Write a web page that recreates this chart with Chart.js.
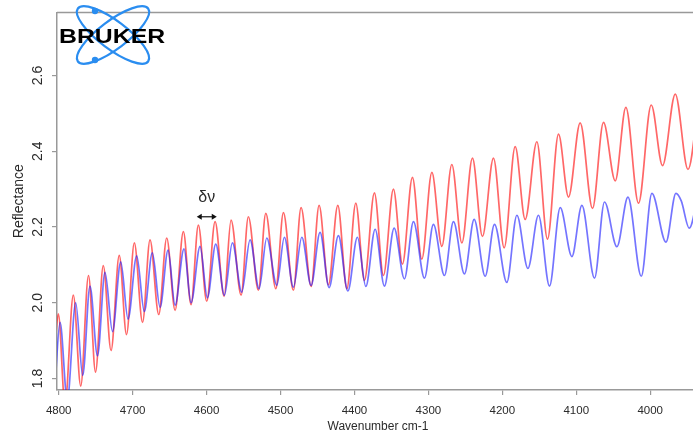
<!DOCTYPE html>
<html>
<head>
<meta charset="utf-8">
<script src="https://cdn.jsdelivr.net/npm/chart.js@4.4.1/dist/chart.umd.min.js"></script>
<style>
  html, body { margin: 0; padding: 0; background: #fff; overflow: hidden; }
  #wrap { width: 702px; height: 437px; }
</style>
</head>
<body>
<div id="wrap"><canvas id="c" width="702" height="437"></canvas></div>
<script>
// ---- data ----
const xTicks = [4800, 4700, 4600, 4500, 4400, 4300, 4200, 4100, 4000];
const yTicks = [1.8, 2.0, 2.2, 2.4, 2.6];
const xTitle = 'Wavenumber cm-1';
const yTitle = 'Reflectance';
const annotText = 'δν';

// red spectrum: wavenumber (cm-1) of successive peaks / troughs and reflectance
const redWn = [4805, 4800.5, 4791.5, 4780.2, 4770.2, 4759.7, 4750.2, 4739.7, 4729.2, 4718.1,
  4708.3, 4697.7, 4686.6, 4676.5, 4664.7, 4653.9, 4642.6, 4631.4, 4621.0, 4611.1,
  4599.8, 4588.5, 4576.3, 4566.9, 4553.3, 4543.5, 4529.9, 4519.9, 4506.4, 4496.1,
  4482.6, 4472.2, 4458.6, 4447.8, 4435.2, 4422.5, 4410.3, 4398.2, 4386.5, 4373.0,
  4360.8, 4347.3, 4335.1, 4321.6, 4308.9, 4295.3, 4281.8, 4268.3, 4254.7, 4240.4,
  4226.9, 4212.0, 4197.5, 4182.6, 4169.1, 4153.3, 4138.9, 4124.0, 4110.5, 4094.7,
  4078.0, 4063.2, 4047.3, 4032.9, 4015.8, 3998.6, 3983.3, 3966.1, 3948.9, 3933];
const redVal = [1.886, 1.971, 1.731, 2.020, 1.780, 2.072, 1.817, 2.098, 1.874, 2.125,
  1.916, 2.158, 1.948, 2.166, 1.969, 2.171, 1.980, 2.188, 1.995, 2.205,
  2.004, 2.214, 2.017, 2.218, 2.020, 2.227, 2.033, 2.236, 2.037, 2.238,
  2.033, 2.251, 2.043, 2.257, 2.047, 2.257, 2.037, 2.263, 2.059, 2.290,
  2.072, 2.300, 2.102, 2.331, 2.115, 2.344, 2.149, 2.365, 2.158, 2.382,
  2.175, 2.382, 2.145, 2.412, 2.220, 2.425, 2.168, 2.445, 2.279, 2.475,
  2.249, 2.476, 2.322, 2.516, 2.263, 2.522, 2.362, 2.551, 2.352, 2.560];

// blue spectrum
const blueWn = [4805, 4798.2, 4788.4, 4777.0, 4767.5, 4757.7, 4747.5, 4737.4, 4727.2, 4716.1,
  4706.2, 4694.5, 4684.2, 4673.4, 4662.9, 4652.1, 4642.6, 4630.5, 4621.0, 4608.8,
  4598.9, 4587.6, 4575.9, 4565.1, 4552.4, 4541.2, 4529.0, 4518.6, 4505.0, 4494.8,
  4482.6, 4471.2, 4458.6, 4446.5, 4434.3, 4421.7, 4408.9, 4396.0, 4384.6, 4372.0,
  4359.5, 4346.3, 4332.4, 4320.2, 4305.3, 4293.2, 4278.3, 4266.1, 4251.2, 4238.1,
  4223.2, 4210.6, 4193.9, 4180.3, 4165.4, 4151.1, 4136.2, 4121.7, 4105.9, 4092.4,
  4075.3, 4061.8, 4045.0, 4030.1, 4012.1, 3997.7, 3978.7, 3965.2, 3958.0, 3947.2, 3933];
const blueVal = [1.783, 1.948, 1.744, 2.000, 1.808, 2.044, 1.860, 2.080, 1.924, 2.108,
  1.957, 2.124, 1.977, 2.132, 1.988, 2.139, 1.994, 2.142, 2.000, 2.149,
  2.013, 2.155, 2.020, 2.158, 2.028, 2.166, 2.037, 2.171, 2.046, 2.173,
  2.041, 2.173, 2.046, 2.186, 2.040, 2.177, 2.031, 2.173, 2.043, 2.194,
  2.044, 2.197, 2.063, 2.214, 2.065, 2.207, 2.072, 2.214, 2.076, 2.220,
  2.070, 2.207, 2.054, 2.231, 2.091, 2.231, 2.044, 2.251, 2.122, 2.257,
  2.065, 2.266, 2.148, 2.279, 2.070, 2.289, 2.160, 2.289, 2.269, 2.197, 2.310];

// annotation "δν" (data coordinates)
const annotArrowFrom = 4613.3, annotArrowTo = 4586.2, annotArrowY = 2.227;
const annotTextX = 4599.8, annotTextY = 2.277;

// ---- styling ----
const FONT = "'Liberation Sans', Arial, Helvetica, sans-serif";
const AXIS = '#999999';
const TXT = '#2a2a2a';

const toPts = (xs, ys) => xs.map((x, i) => ({ x: x, y: ys[i] }));

const decor = {
  id: 'decor',
  afterDraw(chart) {
    const ctx = chart.ctx, a = chart.chartArea;
    const sx = chart.scales.x, sy = chart.scales.y;
    ctx.save();
    // top frame line
    ctx.strokeStyle = AXIS; ctx.lineWidth = 1.5;
    ctx.beginPath(); ctx.moveTo(a.left, a.top); ctx.lineTo(a.right + 5, a.top); ctx.stroke();

    // annotation arrow + label
    const x1 = sx.getPixelForValue(annotArrowFrom), x2 = sx.getPixelForValue(annotArrowTo);
    const ya = sy.getPixelForValue(annotArrowY);
    ctx.strokeStyle = '#111'; ctx.fillStyle = '#111'; ctx.lineWidth = 1.2;
    ctx.beginPath(); ctx.moveTo(x1 + 3, ya); ctx.lineTo(x2 - 3, ya); ctx.stroke();
    ctx.beginPath(); ctx.moveTo(x1, ya); ctx.lineTo(x1 + 5, ya - 3); ctx.lineTo(x1 + 5, ya + 3); ctx.closePath(); ctx.fill();
    ctx.beginPath(); ctx.moveTo(x2, ya); ctx.lineTo(x2 - 5, ya - 3); ctx.lineTo(x2 - 5, ya + 3); ctx.closePath(); ctx.fill();
    ctx.font = '16px ' + FONT; ctx.fillStyle = TXT; ctx.textAlign = 'center'; ctx.textBaseline = 'middle';
    ctx.fillText(annotText, sx.getPixelForValue(annotTextX), sy.getPixelForValue(annotTextY));

    // Bruker logo
    ctx.strokeStyle = '#2a8df0'; ctx.lineWidth = 2.2;
    [37, -37].forEach(deg => {
      ctx.beginPath();
      ctx.ellipse(113, 35, 44, 14, deg * Math.PI / 180, 0, Math.PI * 2);
      ctx.stroke();
    });
    ctx.fillStyle = '#2a8df0';
    ctx.beginPath(); ctx.arc(95, 11, 3.2, 0, Math.PI * 2); ctx.fill();
    ctx.beginPath(); ctx.arc(95, 60, 3.2, 0, Math.PI * 2); ctx.fill();
    ctx.fillStyle = '#000';
    ctx.font = 'bold 20px ' + FONT; ctx.textAlign = 'left'; ctx.textBaseline = 'alphabetic';
    ctx.save(); ctx.scale(1.24, 1); ctx.fillText('BRUKER', 59 / 1.24, 42.5); ctx.restore();
    ctx.restore();
  }
};

new Chart(document.getElementById('c'), {
  type: 'line',
  data: {
    datasets: [
      { label: 'blue', data: toPts(blueWn, blueVal), borderColor: 'rgba(30,30,255,0.62)', borderWidth: 1.7 },
      { label: 'red', data: toPts(redWn, redVal), borderColor: 'rgba(255,10,10,0.62)', borderWidth: 1.7 }
    ]
  },
  options: {
    responsive: false, animation: false, devicePixelRatio: 1,
    layout: { padding: { top: 5, right: 3, left: 0, bottom: 0 } },
    plugins: { legend: { display: false }, tooltip: { enabled: false } },
    elements: { point: { radius: 0 }, line: { cubicInterpolationMode: 'monotone' } },
    scales: {
      x: {
        type: 'linear', reverse: true, min: 3934, max: 4802.3,
        afterBuildTicks: s => { s.ticks = xTicks.map(v => ({ value: v })); },
        afterFit: s => { s.height = 47; },
        grid: { drawOnChartArea: false, tickLength: 5, color: AXIS, lineWidth: 1.2 },
        border: { color: AXIS, width: 1.5 },
        ticks: { font: { family: FONT, size: 11.5 }, color: TXT, padding: 9, minRotation: 0, maxRotation: 0, callback: v => String(v) },
        title: { display: true, text: xTitle, font: { family: FONT, size: 12 }, color: TXT, padding: { top: 0, bottom: 3 } }
      },
      y: {
        min: 1.7697, max: 2.7665,
        afterBuildTicks: s => { s.ticks = yTicks.map(v => ({ value: v })); },
        afterFit: s => { s.width = 57; },
        grid: { drawOnChartArea: false, tickLength: 5, color: AXIS, lineWidth: 1.2 },
        border: { color: AXIS, width: 1.5 },
        ticks: { font: { family: FONT, size: 14 }, color: TXT, padding: 4, minRotation: 90, maxRotation: 90, crossAlign: 'center', callback: v => v.toFixed(1) },
        title: { display: true, text: yTitle, font: { family: FONT, size: 14 }, color: TXT, padding: { top: 11, bottom: 0 } }
      }
    }
  },
  plugins: [decor]
});
</script>
</body>
</html>
